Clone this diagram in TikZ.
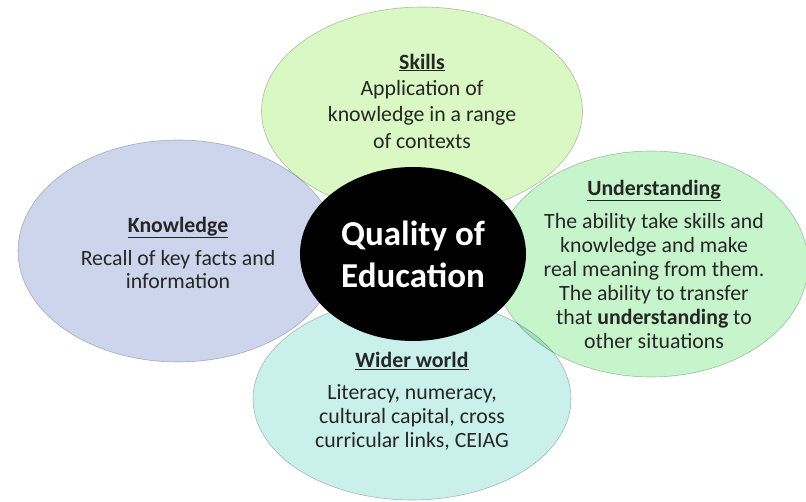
\documentclass[tikz,border=0pt]{standalone}
\usepackage{fontspec}
\setmainfont{Carlito}
\usetikzlibrary{shapes.geometric}
\definecolor{skillgreen}{HTML}{D9F8C3}
\definecolor{knowblue}{HTML}{CCD5EC}
\definecolor{undgreen}{HTML}{C6F4CB}
\definecolor{widercyan}{HTML}{C9F0EB}
\definecolor{bodygray}{HTML}{262626}

\begin{document}
\begin{tikzpicture}[x=1pt,y=-1pt,
  petal/.style={ellipse, draw=black!25, line width=0.6pt, inner sep=0pt, blend mode=multiply},
  blurb/.style={align=center, text=bodygray, font=\fontsize{21.8}{24}\selectfont}]
\useasboundingbox (0,0) rectangle (806,502);
% the four petals
\node[petal, fill=knowblue, minimum width=320pt, minimum height=222pt] (knowledge) at (178,251) {};
\node[petal, fill=skillgreen, minimum width=321pt, minimum height=208pt] (skills) at (422,111) {};
\node[petal, fill=undgreen, minimum width=314pt, minimum height=226pt] (understanding) at (651,264) {};
\node[petal, fill=widercyan, minimum width=318pt, minimum height=202pt] (wider) at (412,399) {};
% centre
\node[ellipse, fill=black, inner sep=0pt, minimum width=226pt, minimum height=174pt] (quality) at (413,254) {};
\node[align=center, text=white, font=\fontsize{35}{42}\selectfont\bfseries] (qualitytext) at (quality.center) {Quality of\\Education};
% texts
\node[blurb, font=\fontsize{21.8}{26.3}\selectfont] (skillstext) at (422,101)
  {\underline{\textbf{Skills}}\\Application of\\knowledge in a range\\of contexts};
\node[blurb, font=\fontsize{21.8}{23}\selectfont] (knowtext) at (178,253)
  {\underline{\textbf{Knowledge}}\\[10pt]Recall of key facts and\\information};
\node[blurb] (undtext) at (654,264)
  {\underline{\textbf{Understanding}}\\[9pt]The ability take skills and\\knowledge and make\\real meaning from them.\\The ability to transfer\\that \textbf{understanding} to\\other situations};
\node[blurb] (widertext) at (412,401)
  {\underline{\textbf{Wider world}}\\[8pt]Literacy, numeracy,\\cultural capital, cross\\curricular links, CEIAG};
\end{tikzpicture}
\end{document}
